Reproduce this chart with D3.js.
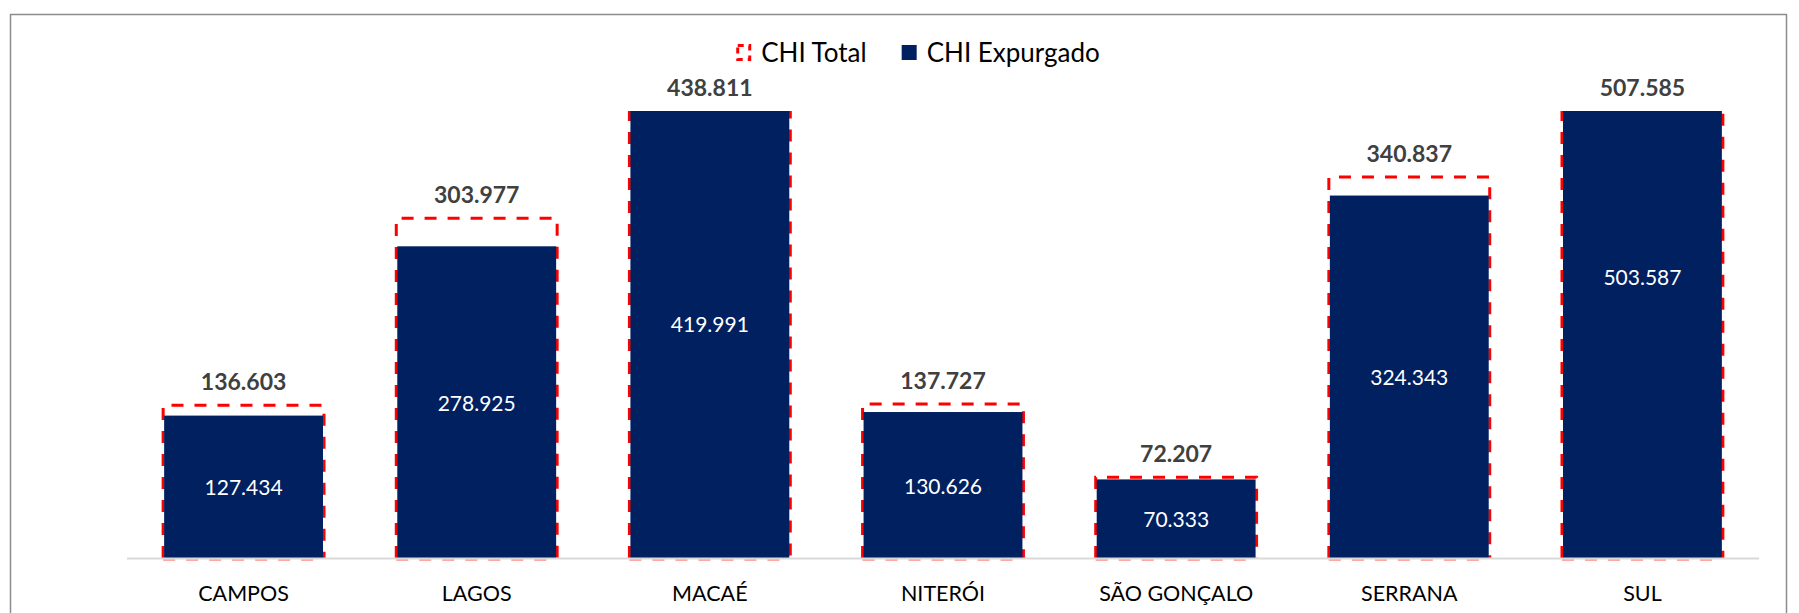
<!DOCTYPE html>
<html>
<head>
<meta charset="utf-8">
<script src="https://cdn.jsdelivr.net/npm/d3@7"></script>
<style>
    body { margin: 0; background: #fff; }
    svg { display: block; font-family: Lato, 'Open Sans', sans-serif; }
</style>
</head>
<body>
<div id="chart"></div>
<script>
var categories   = ['CAMPOS', 'LAGOS', 'MACAÉ', 'NITERÓI', 'SÃO GONÇALO', 'SERRANA', 'SUL'];
var chiTotal     = [136603, 303977, 438811, 137727, 72207, 340837, 507585];
var chiExpurgado = [127434, 278925, 419991, 130626, 70333, 324343, 503587];
var seriesNames  = ['CHI Total', 'CHI Expurgado'];
var yMax         = 400000;

(function () {
    var width  = 1799;
    var height = 613;

    var colorTotal = '#ff0000';
    var colorExp   = '#002060';
    var labelColor = '#404040';

    var plot = { left: 127, right: 1759, top: 111, bottom: 558 };

    var ptBR = d3.formatLocale({ decimal: ',', thousands: '.', grouping: [3], currency: ['R$', ''] });
    var fmt = ptBR.format(',d');

    var svg = d3.select('#chart')
        .append('svg')
        .attr('width', width)
        .attr('height', height);

    // moldura do gráfico
    svg.append('rect')
        .attr('x', 10.5)
        .attr('y', 14.5)
        .attr('width', 1776)
        .attr('height', 700)
        .attr('fill', 'none')
        .attr('stroke', '#8c8c8c')
        .attr('stroke-width', 1.5);

    var x = d3.scaleBand()
        .domain(categories)
        .range([plot.left, plot.right])
        .paddingInner(0.31)
        .paddingOuter(0.155);

    var y = d3.scaleLinear()
        .domain([0, yMax])
        .range([plot.bottom, plot.top]);

    svg.append('clipPath')
        .attr('id', 'plot-clip')
        .append('rect')
        .attr('x', plot.left - 10)
        .attr('y', plot.top)
        .attr('width', plot.right - plot.left + 20)
        .attr('height', plot.bottom - plot.top + 10);

    var bars = svg.append('g').attr('clip-path', 'url(#plot-clip)');

    var rows = categories.map(function (c, i) {
        return { cat: c, total: chiTotal[i], exp: chiExpurgado[i] };
    });

    // CHI Total: contorno tracejado
    bars.selectAll('path.total')
        .data(rows)
        .enter()
        .append('path')
        .attr('class', 'total')
        .attr('d', function (d) {
            var x0 = x(d.cat), x1 = x(d.cat) + x.bandwidth();
            var yt = y(d.total), yb = y(0);
            return 'M' + x0 + ',' + yb + 'L' + x0 + ',' + yt + 'L' + x1 + ',' + yt + 'L' + x1 + ',' + yb;
        })
        .attr('fill', 'none')
        .attr('stroke', colorTotal)
        .attr('stroke-width', 3)
        .attr('stroke-dasharray', '12,11');

    bars.selectAll('line.total-base')
        .data(rows)
        .enter()
        .append('line')
        .attr('x1', function (d) { return x(d.cat); })
        .attr('x2', function (d) { return x(d.cat) + x.bandwidth(); })
        .attr('y1', y(0) + 2)
        .attr('y2', y(0) + 2)
        .attr('stroke', colorTotal)
        .attr('stroke-opacity', 0.35)
        .attr('stroke-width', 2)
        .attr('stroke-dasharray', '12,11');

    // CHI Expurgado: barra cheia
    bars.selectAll('rect.exp')
        .data(rows)
        .enter()
        .append('rect')
        .attr('class', 'exp')
        .attr('x', function (d) { return x(d.cat) + 1; })
        .attr('y', function (d) { return y(d.exp); })
        .attr('width', x.bandwidth() - 2)
        .attr('height', function (d) { return y(0) - y(d.exp); })
        .attr('fill', colorExp);

    // eixo X
    svg.append('line')
        .attr('x1', plot.left)
        .attr('x2', plot.right)
        .attr('y1', plot.bottom + 0.5)
        .attr('y2', plot.bottom + 0.5)
        .attr('stroke', '#d9d9d9')
        .attr('stroke-width', 2);

    var xAxis = svg.append('g')
        .attr('transform', 'translate(0,' + plot.bottom + ')')
        .call(d3.axisBottom(x).tickSize(0).tickPadding(28));
    xAxis.select('.domain').remove();
    xAxis.selectAll('text')
        .attr('font-family', 'Lato, sans-serif')
        .attr('font-size', 21.5)
        .attr('fill', '#000');

    // rótulos internos (CHI Expurgado)
    svg.selectAll('text.exp-label')
        .data(rows)
        .enter()
        .append('text')
        .attr('x', function (d) { return x(d.cat) + x.bandwidth() / 2; })
        .attr('y', function (d) { return (y(d.exp) + y(0)) / 2; })
        .attr('text-anchor', 'middle')
        .attr('dominant-baseline', 'central')
        .attr('font-size', 21)
        .attr('fill', '#fff')
        .text(function (d) { return fmt(d.exp); });

    // rótulos externos (CHI Total)
    svg.selectAll('text.total-label')
        .data(rows)
        .enter()
        .append('text')
        .attr('x', function (d) { return x(d.cat) + x.bandwidth() / 2; })
        .attr('y', function (d) { return Math.max(y(d.total), plot.top) - 15; })
        .attr('text-anchor', 'middle')
        .attr('font-size', 23)
        .attr('font-weight', 'bold')
        .attr('fill', labelColor)
        .text(function (d) { return fmt(d.total); });

    /* Legenda */
    var legend = svg.append('g');
    var lx = 0;
    var sw = 15;
    var gap = 35;
    seriesNames.forEach(function (name, i) {
        var item = legend.append('g').attr('transform', 'translate(' + lx + ',0)');
        if (i === 0) {
            item.append('rect')
                .attr('x', 1.5).attr('y', -16.5)
                .attr('width', sw - 3).attr('height', sw - 1)
                .attr('fill', 'none')
                .attr('stroke', colorTotal)
                .attr('stroke-width', 3)
                .attr('stroke-dasharray', '6,5');
        } else {
            item.append('rect')
                .attr('x', 0).attr('y', -17)
                .attr('width', sw).attr('height', sw)
                .attr('fill', colorExp);
        }
        var t = item.append('text')
            .attr('x', sw + 10)
            .attr('y', 0)
            .attr('font-size', 26)
            .attr('fill', '#000')
            .text(name);
        lx += sw + 10 + t.node().getComputedTextLength() + gap;
    });
    var lw = lx - gap;
    legend.attr('transform', 'translate(' + (918 - lw / 2) + ',62)');
})();
</script>
</body>
</html>
